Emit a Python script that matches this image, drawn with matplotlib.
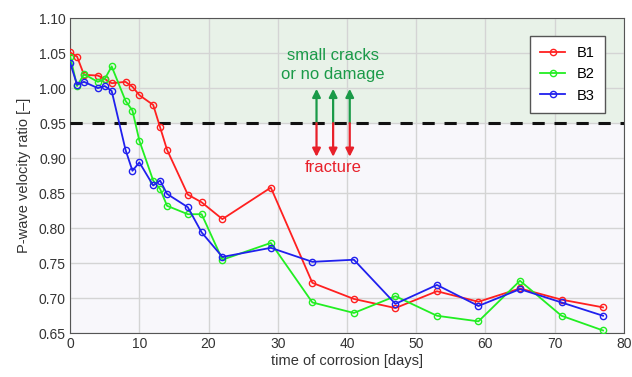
import matplotlib
matplotlib.use("Agg")
import matplotlib.pyplot as plt

plt.rcParams['font.family'] = ['Liberation Sans', 'DejaVu Sans']

days = [0, 1, 2, 4, 5, 6, 8, 9, 10, 12, 13, 14, 17, 19, 22, 29, 35, 41, 47, 53, 59, 65, 71, 77]
b1 = [1.051, 1.045, 1.019, 1.018, 1.013, 1.007, 1.009, 1.002, 0.990, 0.976, 0.944, 0.912,
      0.848, 0.837, 0.813, 0.858, 0.722, 0.699, 0.686, 0.710, 0.695, 0.714, 0.698, 0.687]
b2 = [1.045, 1.003, 1.020, 1.009, 1.013, 1.031, 0.982, 0.968, 0.925, 0.868, 0.856, 0.832,
      0.820, 0.820, 0.755, 0.779, 0.694, 0.679, 0.703, 0.675, 0.667, 0.725, 0.675, 0.654]
b3 = [1.036, 1.005, 1.009, 1.000, 1.003, 0.996, 0.912, 0.882, 0.894, 0.861, 0.868, 0.849,
      0.830, 0.794, 0.759, 0.772, 0.752, 0.755, 0.692, 0.719, 0.689, 0.713, 0.694, 0.675]

threshold = 0.95
arrow_days = [35.6, 38.0, 40.4]

fig = plt.figure(figsize=(6.32, 3.77), dpi=100)
ax = fig.add_axes([0.111, 0.116, 0.876, 0.836])

ax.set_xlim(0, 80)
ax.set_ylim(0.65, 1.10)
ax.axhspan(threshold, 1.10, color='#e8f2e8', zorder=0)
ax.axhspan(0.65, threshold, color='#f8f7fb', zorder=0)
ax.grid(True, color='#d4d4d4', linewidth=1.0, zorder=1)
ax.set_axisbelow(True)

ax.axhline(threshold, color='#111111', linestyle=(0, (4, 3.2)), linewidth=2.2, zorder=3)

for d in arrow_days:
    ax.annotate('', xy=(d, 0.999), xytext=(d, threshold),
                arrowprops=dict(arrowstyle='-|>', color='#1a9a48', lw=1.6,
                                mutation_scale=12, shrinkA=0, shrinkB=0), zorder=4)
    ax.annotate('', xy=(d, 0.902), xytext=(d, threshold),
                arrowprops=dict(arrowstyle='-|>', color='#e8202a', lw=1.6,
                                mutation_scale=12, shrinkA=0, shrinkB=0), zorder=4)

ax.text(38.0, 1.033, 'small cracks\nor no damage', color='#1a9a48', fontsize=12,
        ha='center', va='center', linespacing=1.3)
ax.text(38.0, 0.886, 'fracture', color='#e8202a', fontsize=12, ha='center', va='center')

ax.plot(days, b1, color='#ff2020', marker='o', mfc='none', ms=4.5, mew=1.0, lw=1.3, label='B1', zorder=5)
ax.plot(days, b2, color='#22ee22', marker='o', mfc='none', ms=4.5, mew=1.0, lw=1.3, label='B2', zorder=5)
ax.plot(days, b3, color='#2020ee', marker='o', mfc='none', ms=4.5, mew=1.0, lw=1.3, label='B3', zorder=5)

ax.set_xticks(range(0, 81, 10))
ax.set_yticks([0.65, 0.70, 0.75, 0.80, 0.85, 0.90, 0.95, 1.00, 1.05, 1.10])
ax.set_yticklabels(['%.2f' % v for v in ax.get_yticks()])
ax.tick_params(labelsize=10, colors='#333333', length=0, pad=3)
for s in ax.spines.values():
    s.set_color('#555555')

ax.set_xlabel('time of corrosion [days]', fontsize=10.5, color='#333333', labelpad=2)
ax.set_ylabel('P-wave velocity ratio [\u2013]', fontsize=10.5, color='#333333', labelpad=6)

leg = ax.legend(loc='upper right', bbox_to_anchor=(0.966, 0.944), borderaxespad=0,
                fontsize=10.5, fancybox=False, edgecolor='#555555', framealpha=1,
                handlelength=1.7, borderpad=0.7, labelspacing=0.5)
leg.get_frame().set_linewidth(1.0)

fig.savefig('out.png', dpi=100)
